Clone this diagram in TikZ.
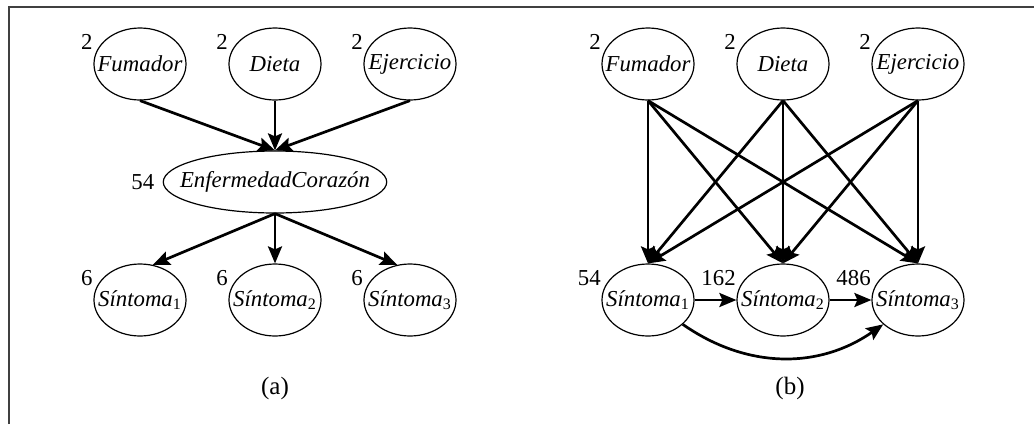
\documentclass[tikz,border=0pt]{standalone}
\usepackage{fontspec}
\setmainfont{Liberation Serif}
\usetikzlibrary{arrows.meta, shapes.geometric, positioning}
\definecolor{FrameGray}{RGB}{64,64,64}

\begin{document}
\begin{tikzpicture}[x=0.5pt,y=-0.5pt,
    var/.style={draw,ellipse,line width=0.6pt,inner xsep=-5pt,inner ysep=0pt,
                minimum width=46pt,minimum height=36pt,
                font=\fontsize{11.4}{13}\selectfont\itshape},
    bigvar/.style={var,inner xsep=-8pt,minimum width=105pt,minimum height=31pt},
    cnt/.style={anchor=east,inner sep=0pt,font=\fontsize{11.4}{13}\selectfont,
                xshift=-7pt,yshift=-2pt},
    arr/.style={-{Stealth[length=8.5pt,width=7pt,inset=1.5pt]},line width=1.35pt},
    panel/.style={font=\fontsize{12.5}{14}\selectfont}
  ]
    \useasboundingbox (0,0) rectangle (1034,424);
    \draw[FrameGray,line width=1pt] (9,424) -- (9,7) -- (1034,7);

    % (a)
    \node[var]    (fa)  at (140,64)  {Fumador};
    \node[var]    (da)  at (275,64)  {Dieta};
    \node[var]    (ea)  at (410,64)  {Ejercicio};
    \node[bigvar] (enf) at (275,182) {EnfermedadCorazón};
    \node[var]    (sa1) at (140,300) {Síntoma\textsubscript{\upshape 1}};
    \node[var]    (sa2) at (275,300) {Síntoma\textsubscript{\upshape 2}};
    \node[var]    (sa3) at (410,300) {Síntoma\textsubscript{\upshape 3}};

    \node[cnt] (nfa)  at (fa.north west)  {2};
    \node[cnt] (nda)  at (da.north west)  {2};
    \node[cnt] (nea)  at (ea.north west)  {2};
    \node[cnt,xshift=3pt,yshift=2pt] (nenf) at (enf.west) {54};
    \node[cnt] (nsa1) at (sa1.north west) {6};
    \node[cnt] (nsa2) at (sa2.north west) {6};
    \node[cnt] (nsa3) at (sa3.north west) {6};

    \draw[arr] (fa.south) -- (enf.north);
    \draw[arr] (da.south) -- (enf.north);
    \draw[arr] (ea.south) -- (enf.north);
    \draw[arr] (enf.south) -- (sa1.70);
    \draw[arr] (enf.south) -- (sa2.north);
    \draw[arr] (enf.south) -- (sa3.110);

    \node[panel] (capa) at (275,388) {(a)};

    % (b)
    \node[var] (fb)  at (648,64)  {Fumador};
    \node[var] (db)  at (783,64)  {Dieta};
    \node[var] (eb)  at (918,64)  {Ejercicio};
    \node[var] (sb1) at (648,300) {Síntoma\textsubscript{\upshape 1}};
    \node[var] (sb2) at (783,300) {Síntoma\textsubscript{\upshape 2}};
    \node[var] (sb3) at (918,300) {Síntoma\textsubscript{\upshape 3}};

    \node[cnt] (nfb)  at (fb.north west)  {2};
    \node[cnt] (ndb)  at (db.north west)  {2};
    \node[cnt] (neb)  at (eb.north west)  {2};
    \node[cnt] (nsb1) at (sb1.north west) {54};
    \node[cnt] (nsb2) at (sb2.north west) {162};
    \node[cnt] (nsb3) at (sb3.north west) {486};

    \draw[arr] (fb.south) -- (sb1.north);
    \draw[arr] (fb.south) -- (sb2.north);
    \draw[arr] (fb.south) -- (sb3.north);
    \draw[arr] (db.south) -- (sb1.north);
    \draw[arr] (db.south) -- (sb2.north);
    \draw[arr] (db.south) -- (sb3.north);
    \draw[arr] (eb.south) -- (sb1.north);
    \draw[arr] (eb.south) -- (sb2.north);
    \draw[arr] (eb.south) -- (sb3.north);
    \draw[arr] (sb1) -- (sb2);
    \draw[arr] (sb2) -- (sb3);
    \draw[arr] (sb1.-35) to[out=-35,in=-145] (sb3.-145);

    \node[panel] (capb) at (790,388) {(b)};
\end{tikzpicture}
\end{document}
